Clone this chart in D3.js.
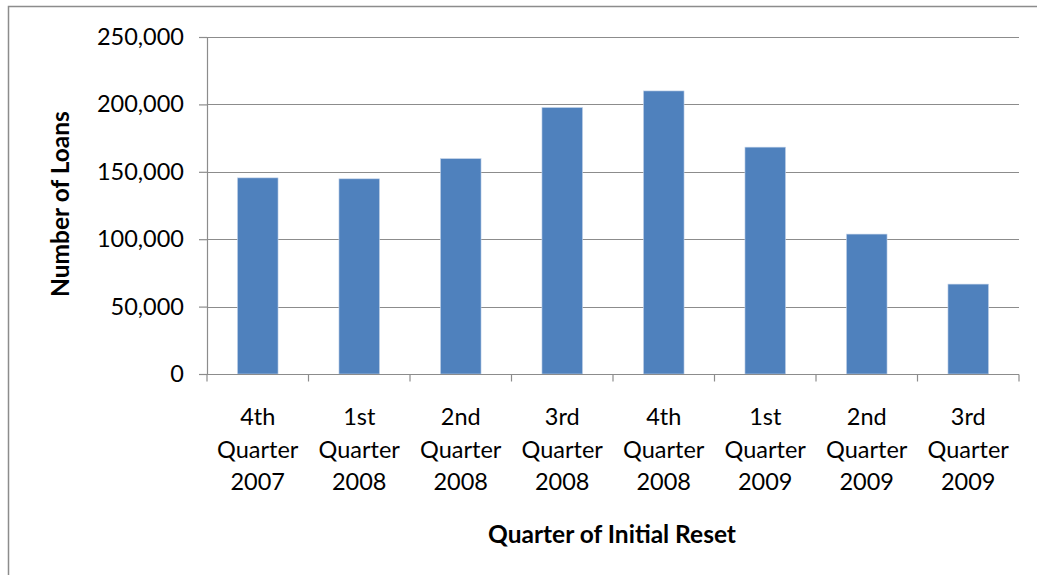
<!DOCTYPE html>
<html>
<head>
<meta charset="utf-8">
<script src="https://cdn.jsdelivr.net/npm/d3@7"></script>
<style>
  body { margin: 0; background: #fff; }
  svg text { font-family: Lato, "Open Sans", sans-serif; fill: #000; }
</style>
</head>
<body>
<div id="chart"></div>
<script>
// Loans by quarter of initial reset
const quarters = [
  ["4th", "Quarter", "2007"],
  ["1st", "Quarter", "2008"],
  ["2nd", "Quarter", "2008"],
  ["3rd", "Quarter", "2008"],
  ["4th", "Quarter", "2008"],
  ["1st", "Quarter", "2009"],
  ["2nd", "Quarter", "2009"],
  ["3rd", "Quarter", "2009"],
];
const loans = [145500, 144800, 159800, 197700, 210000, 168300, 103800, 66700];
const yTicks = [0, 50000, 100000, 150000, 200000, 250000];

const width = 1037, height = 575;
const margin = { top: 37, right: 18, bottom: 201, left: 207 };

const svg = d3.select("#chart").append("svg")
  .attr("width", width)
  .attr("height", height);

// Outer chart frame
svg.append("rect")
  .attr("x", 8.5).attr("y", 6.5)
  .attr("width", width + 10).attr("height", height + 10)
  .attr("fill", "none")
  .attr("stroke", "#8c8c8c")
  .attr("stroke-width", 1.5);

const x = d3.scaleBand()
  .domain(d3.range(quarters.length))
  .range([margin.left, width - margin.right])
  .paddingInner(0.6)
  .paddingOuter(0.3);

const y = d3.scaleLinear()
  .domain([0, 250000])
  .range([height - margin.bottom, margin.top]);

// Gridlines
svg.append("g")
  .selectAll("line")
  .data(yTicks.slice(1))
  .join("line")
  .attr("x1", margin.left).attr("x2", width - margin.right)
  .attr("y1", (d) => Math.round(y(d)) + 0.5)
  .attr("y2", (d) => Math.round(y(d)) + 0.5)
  .attr("stroke", "#8c8c8c")
  .attr("stroke-width", 1.2);

// Bars
svg.append("g")
  .selectAll("rect")
  .data(loans)
  .join("rect")
  .attr("x", (d, i) => x(i))
  .attr("y", (d) => y(d))
  .attr("width", x.bandwidth())
  .attr("height", (d) => y(0) - y(d))
  .attr("fill", "#4f81bd")
  .attr("stroke", "#c6d5ea")
  .attr("stroke-width", 0.6);

// Y axis
const yAxis = svg.append("g")
  .attr("transform", `translate(${margin.left},0)`)
  .call(d3.axisLeft(y).tickValues(yTicks).tickFormat(d3.format(",")).tickSize(8).tickPadding(15));
yAxis.select(".domain").attr("stroke", "#8c8c8c").attr("stroke-width", 1.2);
yAxis.selectAll(".tick line").attr("stroke", "#8c8c8c").attr("stroke-width", 1.2);
yAxis.selectAll(".tick text").attr("font-size", 23.5).attr("fill", "#000")
  .style("font-family", "Lato, sans-serif");

// X axis line and category boundary ticks
const y0 = Math.round(y(0)) + 0.5;
const step = x.step();
const start = margin.left;
svg.append("line")
  .attr("x1", margin.left).attr("x2", width - margin.right)
  .attr("y1", y0).attr("y2", y0)
  .attr("stroke", "#8c8c8c").attr("stroke-width", 1.2);
svg.append("g")
  .selectAll("line")
  .data(d3.range(quarters.length + 1))
  .join("line")
  .attr("x1", (i) => start + i * step)
  .attr("x2", (i) => start + i * step)
  .attr("y1", y0).attr("y2", y0 + 7)
  .attr("stroke", "#8c8c8c").attr("stroke-width", 1.2);

// Category labels
const labels = svg.append("g")
  .selectAll("text")
  .data(quarters)
  .join("text")
  .attr("font-size", 23.5)
  .attr("text-anchor", "middle")
  .attr("transform", (d, i) => `translate(${x(i) + x.bandwidth() / 2},425)`);
labels.selectAll("tspan")
  .data((d) => d)
  .join("tspan")
  .attr("x", 0)
  .attr("y", (d, j) => j * 32.5)
  .text((d) => d);

// Axis titles
svg.append("text")
  .attr("x", 612).attr("y", 543)
  .attr("text-anchor", "middle")
  .attr("font-size", 24.5)
  .attr("font-weight", "bold")
  .text("Quarter of Initial Reset");

svg.append("text")
  .attr("transform", "translate(69,204) rotate(-90)")
  .attr("text-anchor", "middle")
  .attr("font-size", 24.5)
  .attr("font-weight", "bold")
  .text("Number of Loans");
</script>
</body>
</html>
